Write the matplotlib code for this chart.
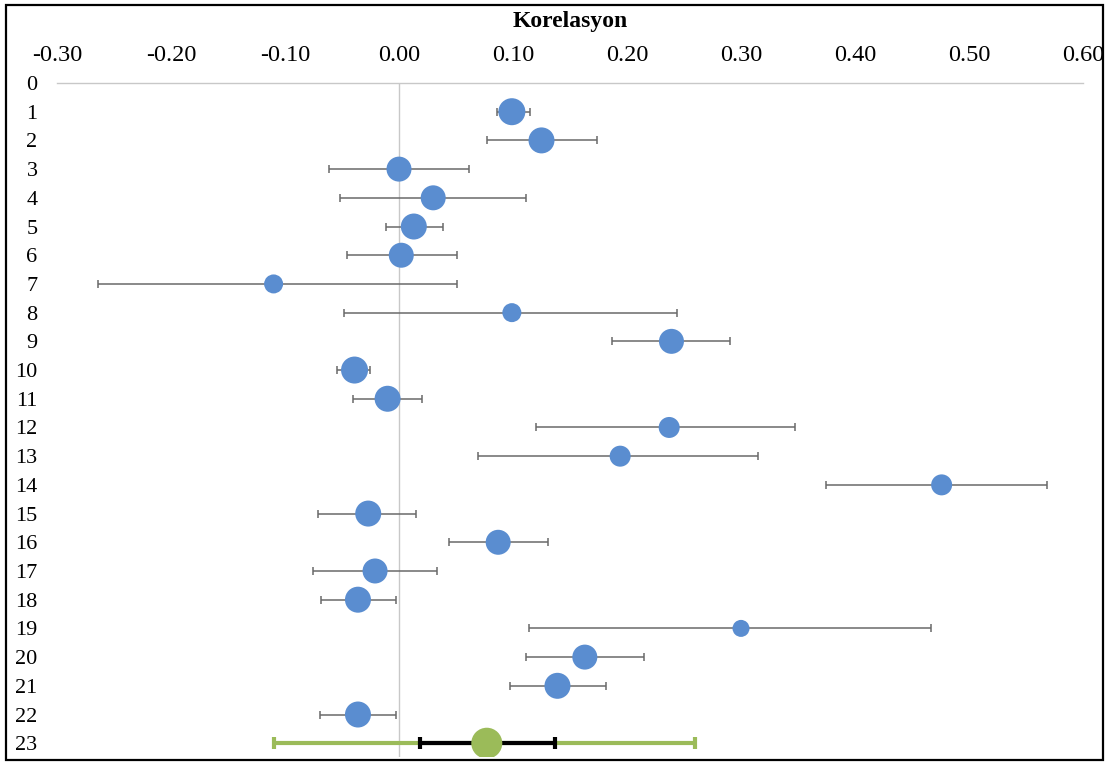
import numpy as np
import matplotlib
matplotlib.use('Agg')
import matplotlib.pyplot as plt
from matplotlib.patches import Rectangle

# correlation per study, with lower / upper confidence limits
studies = list(range(1, 23))
r = [0.099, 0.125, 0.000, 0.030, 0.013, 0.002, -0.110, 0.099, 0.239, -0.039, -0.010,
     0.237, 0.194, 0.476, -0.027, 0.087, -0.021, -0.036, 0.300, 0.163, 0.139, -0.036]
lower = [0.086, 0.077, -0.061, -0.052, -0.011, -0.046, -0.264, -0.048, 0.187, -0.054, -0.040,
         0.120, 0.069, 0.375, -0.071, 0.044, -0.075, -0.068, 0.114, 0.111, 0.097, -0.069]
upper = [0.115, 0.174, 0.061, 0.111, 0.039, 0.051, 0.051, 0.244, 0.290, -0.025, 0.020,
         0.347, 0.315, 0.568, 0.015, 0.131, 0.033, -0.003, 0.467, 0.215, 0.182, -0.003]
# relative study weight (marker diameter)
weights = [27, 26, 25, 25, 26, 25, 19, 19, 25, 27, 26, 21, 21, 21, 26, 25, 25, 26, 17, 25, 26, 26]

# pooled estimate (row 23): inner CI and prediction interval
pooled_r = 0.077
pooled_ci = (0.018, 0.137)
pooled_pi = (-0.110, 0.260)
pooled_weight = 31

x_ticks = np.arange(-0.30, 0.601, 0.10)
y_labels = [str(i) for i in range(0, 24)]

plt.rcParams['font.family'] = ['Liberation Serif', 'DejaVu Serif']

fig = plt.figure(figsize=(11.09, 7.63), dpi=100)
W, H = 1109, 763
ax = fig.add_axes([57 / W, 1 - 757 / H, (1083 - 57) / W, (757 - 83) / H])

r = np.array(r)
lower = np.array(lower)
upper = np.array(upper)
d_pt = np.array(weights) * 72 / 100

ax.axvline(0, color='#c8c8c8', lw=1.0, zorder=1)

ax.errorbar(r, studies, xerr=[r - lower, upper - r], fmt='none',
            ecolor='#6a6a6a', elinewidth=1.1, capsize=3.2, capthick=1.1, zorder=2)
ax.scatter(r, studies, s=d_pt ** 2, color='#5a8dd0', edgecolors='none', zorder=3)

# pooled row
ax.errorbar([pooled_r], [23], xerr=[[pooled_r - pooled_pi[0]], [pooled_pi[1] - pooled_r]],
            fmt='none', ecolor='#9bbb59', elinewidth=3, capsize=4.5, capthick=3, zorder=2)
ax.errorbar([pooled_r], [23], xerr=[[pooled_r - pooled_ci[0]], [pooled_ci[1] - pooled_r]],
            fmt='none', ecolor='black', elinewidth=3, capsize=4.5, capthick=3, zorder=3)
ax.scatter([pooled_r], [23], s=(pooled_weight * 72 / 100) ** 2, color='#9bbb59',
           edgecolors='none', zorder=4)

ax.set_xlim(-0.30, 0.60)
ax.set_ylim(23.48, 0)
ax.set_yticks(range(0, 24))
ax.set_yticklabels(y_labels, fontsize=16)
ax.set_xticks(x_ticks)
ax.set_xticklabels([f'{v:.2f}' for v in x_ticks], fontsize=17.5)
ax.xaxis.tick_top()
ax.tick_params(axis='x', length=0, pad=12)
ax.tick_params(axis='y', length=0, pad=14)
for lbl in ax.get_yticklabels():
    lbl.set_horizontalalignment('right')

for side in ['left', 'right', 'bottom']:
    ax.spines[side].set_visible(False)
ax.spines['top'].set_color('#c8c8c8')
ax.spines['top'].set_linewidth(1.0)

fig.text(570 / W, 1 - 21 / H, 'Korelasyon', ha='center', va='center',
         fontsize=17, fontweight='bold')

fig.patches.append(Rectangle((6 / W, 1 - 760 / H), (1103 - 6) / W, (760 - 5) / H,
                             transform=fig.transFigure, fill=False,
                             edgecolor='black', lw=1.6))

fig.savefig('out.png', dpi=100)
